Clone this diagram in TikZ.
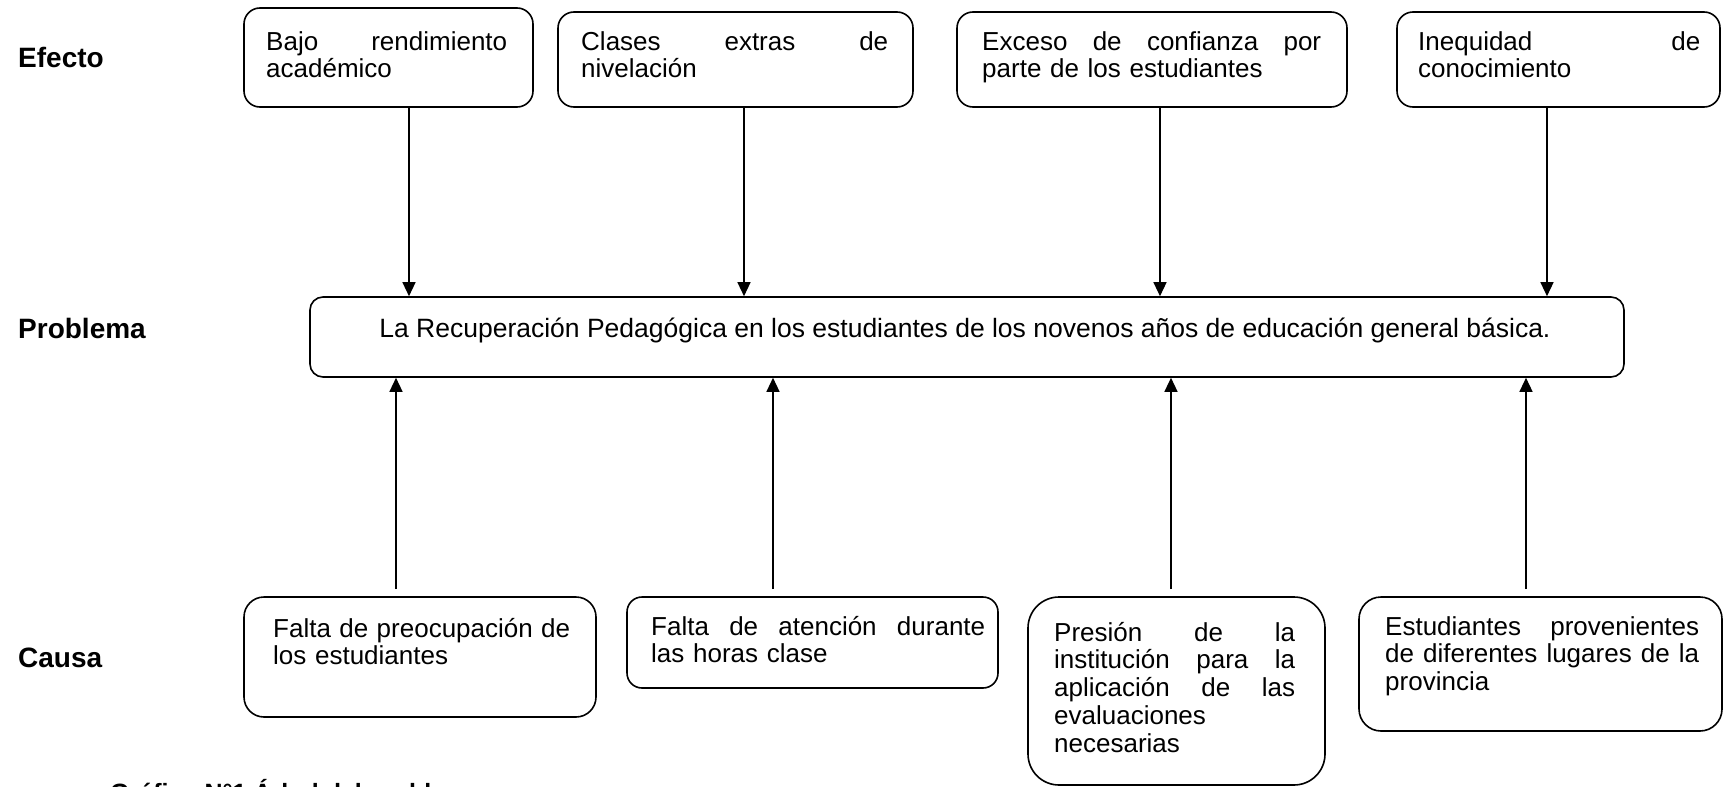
\documentclass[tikz,border=0pt]{standalone}
\usepackage{fontspec}
\setmainfont{Liberation Sans}
\usetikzlibrary{arrows.meta}
\begin{document}
\begin{tikzpicture}[x=1pt,y=-1pt,
  box/.style={draw, line width=1.6pt, inner sep=0pt, rectangle},
  txt/.style={inner sep=0pt, align=left, anchor=base west, font=\fontsize{26}{27.8}\selectfont},
  lab/.style={inner sep=0pt, anchor=base west, font=\fontsize{28}{30}\selectfont\bfseries},
  arr/.style={line width=1.3pt, -{Triangle[length=14pt,width=13pt]}}]
\useasboundingbox (0,0) rectangle (1724,787);
\clip (0,0) rectangle (1724,787);
% side labels
\node[lab] (lefecto) at (18,67) {Efecto};
\node[lab] (lproblema) at (18,338) {Problema};
\node[lab] (lcausa) at (18,667) {Causa};
\node[lab, font=\fontsize{25}{27}\selectfont\bfseries] (caption) at (110,801) {Gráfico N°1 Árbol del problema};
% effect boxes
\node[box, minimum width=289pt, minimum height=99pt, rounded corners=16pt] (e1) at (388.5,57.5) {};
\node[box, minimum width=355pt, minimum height=95pt, rounded corners=16pt] (e2) at (735.5,59.5) {};
\node[box, minimum width=390pt, minimum height=95pt, rounded corners=16pt] (e3) at (1152,59.5) {};
\node[box, minimum width=323pt, minimum height=95pt, rounded corners=16pt] (e4) at (1558.5,59.5) {};
\node[txt, text width=241pt] (te1) at (266,50) {Bajo\hfill rendimiento\\académico};
\node[txt, text width=307pt] (te2) at (581,50) {Clases\hfill extras\hfill de\\nivelación};
\node[txt, text width=339pt] (te3) at (982,50) {Exceso\hfill de\hfill confianza\hfill por\\parte de los estudiantes};
\node[txt, text width=282pt] (te4) at (1418,50) {Inequidad\hfill de\\conocimiento};
% problem box
\node[box, minimum width=1314pt, minimum height=80pt, rounded corners=13pt] (p) at (967,337) {};
\node[txt, anchor=base, font=\fontsize{26.5}{28}\selectfont] (tp) at (965,337) {La Recuperación Pedagógica en los estudiantes de los novenos años de educación general básica.};
% cause boxes
\node[box, minimum width=352pt, minimum height=120pt, rounded corners=20pt] (c1) at (420,657) {};
\node[box, minimum width=371pt, minimum height=91pt, rounded corners=15pt] (c2) at (812.5,642.5) {};
\node[box, minimum width=297pt, minimum height=188pt, rounded corners=31pt] (c3) at (1176.5,691) {};
\node[box, minimum width=363pt, minimum height=134pt, rounded corners=22pt] (c4) at (1540.5,664) {};
\node[txt, text width=297pt] (tc1) at (273,637) {Falta\hfill de\hfill preocupación\hfill de\\los estudiantes};
\node[txt, text width=334pt] (tc2) at (651,635) {Falta\hfill de\hfill atención\hfill durante\\las horas clase};
\node[txt, text width=241pt] (tc3) at (1054,641) {Presión\hfill de\hfill la\\institución\hfill para\hfill la\\aplicación\hfill de\hfill las\\evaluaciones\\necesarias};
\node[txt, text width=314pt] (tc4) at (1385,635) {Estudiantes\hfill provenientes\\de\hfill diferentes\hfill lugares\hfill de\hfill la\\provincia};
% arrow x positions
\coordinate (d1) at (409,0);
\coordinate (d2) at (744,0);
\coordinate (d3) at (1160,0);
\coordinate (d4) at (1547,0);
\coordinate (u1) at (396,0);
\coordinate (u2) at (773,0);
\coordinate (u3) at (1171,0);
\coordinate (u4) at (1526,0);
\draw[arr] (e1.south -| d1) -- (p.north -| d1);
\draw[arr] (e2.south -| d2) -- (p.north -| d2);
\draw[arr] (e3.south -| d3) -- (p.north -| d3);
\draw[arr] (e4.south -| d4) -- (p.north -| d4);
\draw[arr] ([yshift=7pt]c1.north -| u1) -- (p.south -| u1);
\draw[arr] ([yshift=7pt]c2.north -| u2) -- (p.south -| u2);
\draw[arr] ([yshift=7pt]c3.north -| u3) -- (p.south -| u3);
\draw[arr] ([yshift=7pt]c4.north -| u4) -- (p.south -| u4);
\end{tikzpicture}
\end{document}
